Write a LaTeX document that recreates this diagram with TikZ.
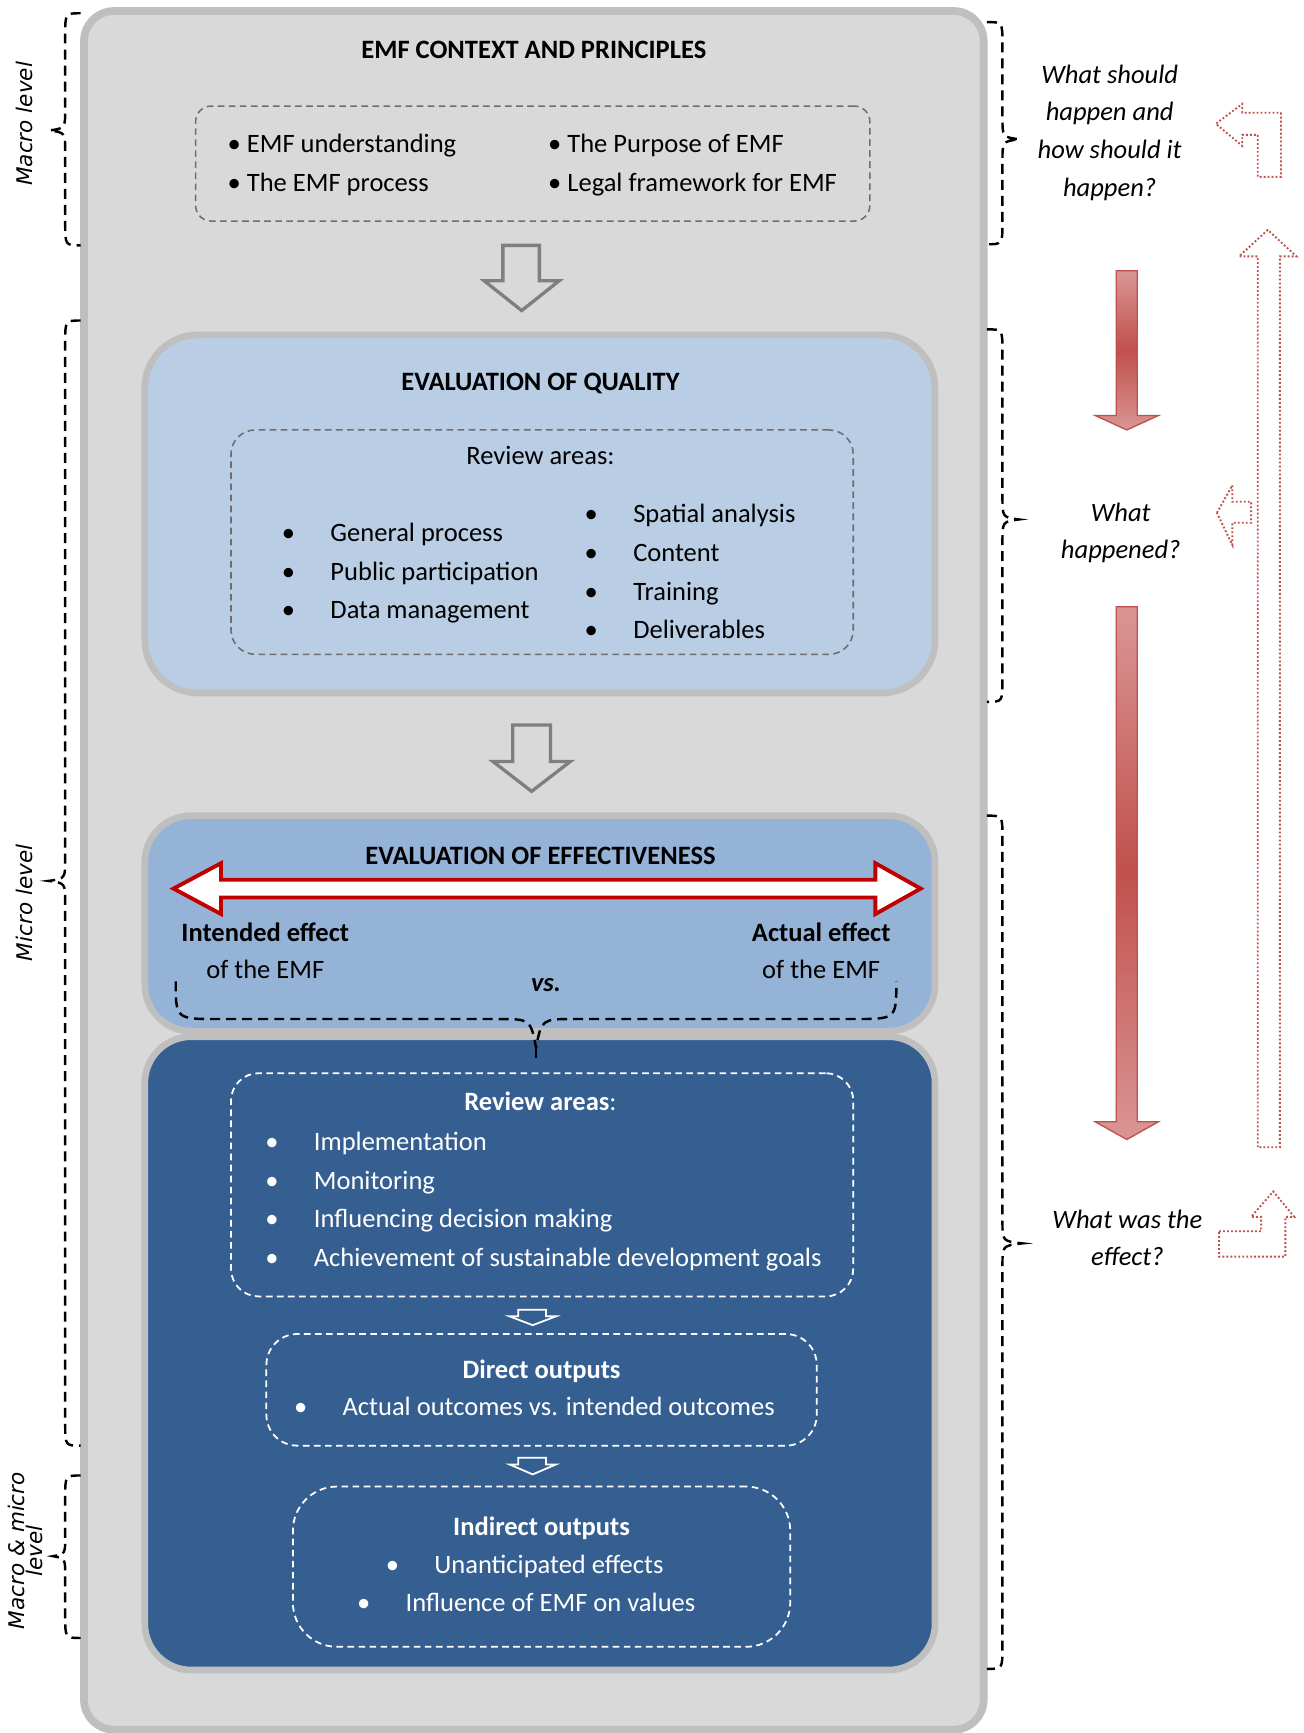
\documentclass[tikz,border=0pt]{standalone}
\usepackage{fontspec}
\setmainfont{Carlito}
\newfontfamily\levelfont{DejaVu Sans}
\definecolor{panelgray}{HTML}{D9D9D9}
\definecolor{edgegray}{HTML}{BFBFBF}
\definecolor{dashgray}{HTML}{6E6E6E}
\definecolor{arrowgray}{HTML}{7F7F7F}
\definecolor{qualblue}{HTML}{B9CDE5}
\definecolor{efflight}{HTML}{95B3D7}
\definecolor{effdark}{HTML}{365F91}
\definecolor{deepred}{HTML}{C00000}
\definecolor{softred}{HTML}{C0504D}
\definecolor{pinkred}{HTML}{DA9694}
\begin{document}
\begin{tikzpicture}[x=1pt,y=1pt,
  every node/.style={inner sep=0pt, outer sep=0pt, font=\fontsize{24}{34}\selectfont},
  panel/.style={draw=edgegray, line width=6pt, rectangle},
  graydash/.style={draw=dashgray, line width=1.4pt, dash pattern=on 6pt off 4pt, rectangle},
  whitedash/.style={draw=white, line width=1.6pt, dash pattern=on 6pt off 4pt, rectangle},
  brace/.style={draw=black, line width=2.2pt, dash pattern=on 9pt off 5.5pt},
  hollowgray/.style={draw=arrowgray, line width=3pt, fill=panelgray, line join=miter},
  hollowwhite/.style={draw=white, line width=1.6pt},
  redarrow/.style={draw=softred, line width=1.2pt, top color=pinkred, bottom color=pinkred, middle color=softred},
  dotarrow/.style={draw=softred, line width=1.7pt, dash pattern=on 1.7pt off 1.9pt},
  lvl/.style={rotate=90, align=center, font=\levelfont\itshape\fontsize{19.5}{16}\selectfont},
  question/.style={align=center, font=\itshape\fontsize{24}{34}\selectfont},
  wt/.style={text=white}
]
\path[use as bounding box, fill=white] (0,0) rectangle (1179,-1568);

% outer frame
\node[panel, line width=7pt, fill=panelgray, rounded corners=27pt,
      minimum width=814pt, minimum height=1555pt] (outer) at (483,-787.5) {};

% ---------- context block ----------
\node[anchor=base] (ctxtitle) at (483,-53) {\bfseries EMF CONTEXT AND PRINCIPLES};
\node[graydash, rounded corners=14pt, minimum width=610pt, minimum height=104pt] (context) at (482,-148) {};
\node[anchor=base west] (c1) at (206,-138) {• EMF understanding};
\node[anchor=base west] (c2) at (206,-173) {• The EMF process};
\node[anchor=base west] (c3) at (496,-138) {• The Purpose of EMF};
\node[anchor=base west] (c4) at (496,-173) {• Legal framework for EMF};

\draw[hollowgray] (455,-222) -- (488,-222) -- (488,-254) -- (506,-254) -- (472,-281)
  -- (438,-254) -- (455,-254) -- cycle;

% ---------- quality block ----------
\node[panel, fill=qualblue, rounded corners=48pt, minimum width=715pt, minimum height=324pt] (quality) at (488.5,-465) {};
\node[anchor=base] (qtitle) at (489,-353) {\bfseries EVALUATION OF QUALITY};
\node[graydash, rounded corners=22pt, minimum width=563pt, minimum height=203pt] (qareas) at (490.5,-490.5) {};
\node[anchor=base] (qhead) at (489,-420) {Review areas:};
\foreach \t [count=\i] in {General process, Public participation, Data management}{
  \node[anchor=base] (qlb\i) at (261,-490-35*\i+35) {•};
  \node[anchor=base west] (ql\i) at (299,-490-35*\i+35) {\t};
}
\foreach \t [count=\i] in {Spatial analysis, Content, Training, Deliverables}{
  \node[anchor=base] (qrb\i) at (535,-473-35*\i+35) {•};
  \node[anchor=base west] (qr\i) at (573,-473-35*\i+35) {\t};
}

\draw[hollowgray] (464,-656) -- (498,-656) -- (498,-689) -- (516,-689) -- (481,-716)
  -- (446,-689) -- (464,-689) -- cycle;

% ---------- effectiveness block ----------
\node[panel, fill=effdark, rounded corners=42pt, minimum width=715pt, minimum height=573pt] (effdark) at (488.5,-1224.5) {};
\node[panel, fill=efflight, rounded corners=42pt, minimum width=715pt, minimum height=195pt] (efflight) at (488.5,-835.5) {};
\node[anchor=base] (etitle) at (489,-782) {\bfseries EVALUATION OF EFFECTIVENESS};

\draw[draw=deepred, fill=white, line width=3.5pt, line join=miter]
  (157,-804) -- (200,-781) -- (200,-796) -- (792,-796) -- (792,-781) -- (833,-804)
  -- (792,-827) -- (792,-812) -- (200,-812) -- (200,-827) -- cycle;

\node[anchor=base] (intended) at (240,-852) {\bfseries Intended effect};
\node[anchor=base] (intof) at (240,-885) {of the EMF};
\node[anchor=base] (actual) at (743,-852) {\bfseries Actual effect};
\node[anchor=base] (actof) at (743,-885) {of the EMF};
\node[anchor=base] (versus) at (494,-897) {\bfseries\itshape vs.};

\coordinate (bl) at (159,-888);
\coordinate (br) at (811,-888);
\coordinate (bt) at (485,-948);
\draw[brace] (bl) .. controls (159,-922) .. (197,-922) -- (450,-922)
  .. controls (480,-922) .. (bt) .. controls (490,-922) .. (520,-922) -- (773,-922)
  .. controls (811,-922) .. (br);
\draw[brace] (bt) -- (485,-962);

\node[whitedash, rounded corners=25pt, minimum width=563pt, minimum height=202pt] (ereview) at (490.5,-1072) {};
\node[anchor=base, wt] (ehead) at (489,-1005) {{\bfseries Review areas}:};
\foreach \t [count=\i] in {Implementation, Monitoring, Influencing decision making, Achievement of sustainable development goals}{
  \node[anchor=base, wt] (eb\i) at (246,-1041-35*\i+35) {•};
  \node[anchor=base west, wt] (el\i) at (284,-1041-35*\i+35) {\t};
}

\draw[hollowwhite] (469,-1185) -- (494,-1185) -- (494,-1191) -- (503,-1191) -- (482,-1199)
  -- (461,-1191) -- (469,-1191) -- cycle;

\node[whitedash, rounded corners=28pt, minimum width=498pt, minimum height=101pt] (direct) at (490,-1257.5) {};
\node[anchor=base, wt] (dtitle) at (490,-1247) {\bfseries Direct outputs};
\node[anchor=base, wt] (db) at (272,-1281) {•};
\node[anchor=base west, wt] (dl) at (310,-1281) {Actual outcomes vs. intended outcomes};

\draw[hollowwhite] (469,-1319) -- (494,-1319) -- (494,-1325) -- (503,-1325) -- (482,-1334)
  -- (461,-1325) -- (469,-1325) -- cycle;

\node[whitedash, rounded corners=40pt, minimum width=450pt, minimum height=145pt] (indirect) at (490,-1417.5) {};
\node[anchor=base, wt] (ititle) at (490,-1389) {\bfseries Indirect outputs};
\node[anchor=base, wt] (ib1) at (355,-1424) {•};
\node[anchor=base west, wt] (il1) at (393,-1424) {Unanticipated effects};
\node[anchor=base, wt] (ib2) at (329,-1458) {•};
\node[anchor=base west, wt] (il2) at (367,-1458) {Influence of EMF on values};

% ---------- level braces on the left ----------
\draw[brace] (73,-12) .. controls (59,-12) .. (59,-32) -- (59,-98)
  .. controls (59,-116) .. (45,-118) .. controls (59,-120) .. (59,-138)
  -- (59,-202) .. controls (59,-222) .. (73,-222);
\draw[brace] (73,-290) .. controls (59,-290) .. (59,-310) -- (59,-777)
  .. controls (59,-795) .. (44,-797) .. controls (59,-799) .. (59,-817)
  -- (59,-1288) .. controls (59,-1308) .. (73,-1308);
\draw[brace] (73,-1335) .. controls (59,-1335) .. (59,-1355) -- (59,-1390)
  .. controls (59,-1406) .. (48,-1408) .. controls (59,-1410) .. (59,-1426)
  -- (59,-1462) .. controls (59,-1482) .. (73,-1482);

\node[lvl] (macro) at (22,-112) {Macro level};
\node[lvl] (micro) at (22,-817) {Micro level};
\node[lvl] (both) at (23,-1403) {Macro \& micro\\level};

% ---------- question braces on the right ----------
\draw[brace] (893,-20) .. controls (907,-20) .. (907,-40) -- (907,-106)
  .. controls (907,-124) .. (922,-126) .. controls (907,-128) .. (907,-146)
  -- (907,-201) .. controls (907,-221) .. (893,-221);
\draw[brace] (893,-298) .. controls (907,-298) .. (907,-318) -- (907,-450)
  .. controls (907,-468) .. (922,-470) .. controls (907,-472) .. (907,-490)
  -- (907,-615) .. controls (907,-635) .. (893,-635);
\draw[brace] (893,-738) .. controls (907,-738) .. (907,-758) -- (907,-1105)
  .. controls (907,-1123) .. (925,-1125) .. controls (907,-1127) .. (907,-1145)
  -- (907,-1490) .. controls (907,-1510) .. (893,-1510);

\node[question] (q1) at (1004,-120) {What should\\happen and\\how should it\\happen?};
\node[question] (q2) at (1014,-482) {What\\happened?};
\node[question] (q3) at (1020,-1120) {What was the\\effect?};

% ---------- red flow arrows ----------
\path[redarrow] (1010,-245) -- (1029,-245) -- (1029,-376) -- (1048,-376) -- (1019.5,-389)
  -- (991,-376) -- (1010,-376) -- cycle;
\path[redarrow] (1010,-549) -- (1029,-549) -- (1029,-1015) -- (1048,-1015) -- (1019.5,-1031)
  -- (991,-1015) -- (1010,-1015) -- cycle;

\draw[dotarrow] (1138,-1038) -- (1138,-232) -- (1121,-232) -- (1147,-208) -- (1173,-232)
  -- (1158,-232) -- (1158,-1038) -- cycle;
\draw[dotarrow] (1159,-102) -- (1159,-160) -- (1138,-160) -- (1138,-122) -- (1124,-122)
  -- (1124,-132) -- (1100,-112) -- (1124,-94) -- (1124,-102) -- cycle;
\draw[dotarrow] (1101,-464) -- (1115,-439) -- (1115,-454) -- (1132,-454) -- (1132,-473)
  -- (1115,-473) -- (1115,-493) -- cycle;
\draw[dotarrow] (1103,-1114) -- (1141,-1114) -- (1141,-1101) -- (1132,-1101) -- (1152,-1078)
  -- (1171,-1101) -- (1163,-1101) -- (1163,-1137) -- (1103,-1137) -- cycle;
\end{tikzpicture}
\end{document}
